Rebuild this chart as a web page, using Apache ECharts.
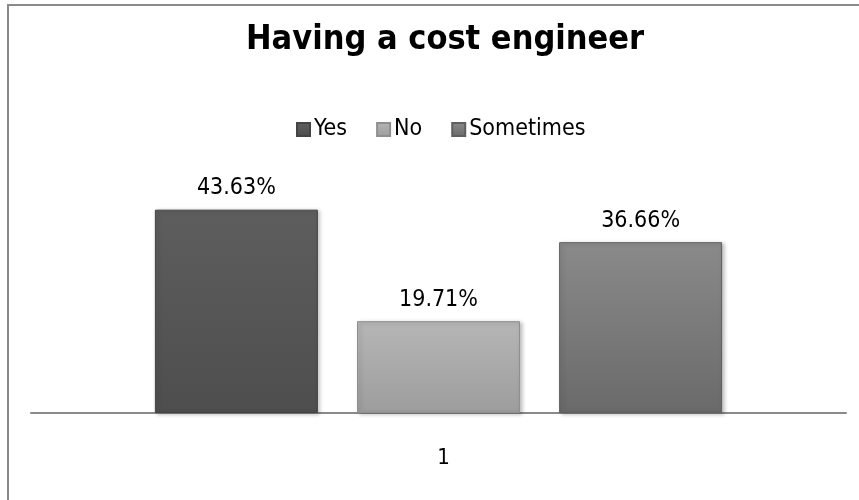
<!DOCTYPE html>
<html>
<head>
<meta charset="utf-8">
<script src="https://cdn.jsdelivr.net/npm/echarts@6/dist/echarts.min.js"></script>
<style>
html,body{margin:0;padding:0;background:#fff;}
#frame{position:absolute;left:7px;top:4px;width:860px;height:500px;border-left:2px solid #8a8a8a;border-top:2px solid #8a8a8a;box-sizing:border-box;}
#chart{position:absolute;left:0;top:0;width:859px;height:500px;}
</style>
</head>
<body>
<div id="frame"></div>
<div id="chart"></div>
<script>
const titleText = 'Having a cost engineer';
const categories = ['1'];
const seriesNames = ['Yes', 'No', 'Sometimes'];
const yesValues = [43.63];
const noValues = [19.71];
const sometimesValues = [36.66];

const narrow = '"Liberation Sans Narrow", "DejaVu Sans Condensed", "Arial Narrow", sans-serif';

function grad(top, bottom, border) {
  return {
    color: new echarts.graphic.LinearGradient(0, 0, 0, 1, [
      {offset: 0, color: top},
      {offset: 1, color: bottom}
    ]),
    borderColor: border,
    borderWidth: 1,
    shadowBlur: 4,
    shadowOffsetX: 2,
    shadowOffsetY: 1,
    shadowColor: 'rgba(0,0,0,0.25)'
  };
}

const styles = [
  grad('#5e5e5e', '#4e4e4e', '#444'),
  grad('#b6b6b6', '#9d9d9d', '#8f8f8f'),
  grad('#8a8a8a', '#6a6a6a', '#5f5f5f')
];
const dataSets = [yesValues, noValues, sometimesValues];

const chart = echarts.init(document.getElementById('chart'));
chart.setOption({
  animation: false,
  backgroundColor: 'transparent',
  title: {
    text: titleText,
    left: 241,
    top: 18,
    textStyle: {fontFamily: narrow, fontWeight: 'bold', fontSize: 34, color: '#000'}
  },
  legend: {
    data: seriesNames,
    top: 113,
    left: 291,
    icon: 'rect',
    itemWidth: 13,
    itemHeight: 13,
    itemGap: 29,
    textStyle: {fontFamily: narrow, fontSize: 23, color: '#000', padding: [0, 0, 0, -1]}
  },
  grid: {left: 31, right: 13, top: 180, bottom: 87},
  xAxis: {
    type: 'category',
    data: categories,
    axisLine: {lineStyle: {color: '#8a8a8a', width: 2}},
    axisTick: {show: false},
    axisLabel: {fontFamily: narrow, fontSize: 22, color: '#000', margin: 34, padding: [0, 0, 0, 10]}
  },
  yAxis: {
    type: 'value',
    min: 0,
    max: 50,
    show: false,
    splitLine: {show: false}
  },
  series: seriesNames.map((name, i) => ({
    name: name,
    type: 'bar',
    data: dataSets[i],
    barWidth: '20%',
    barGap: '24%',
    itemStyle: styles[i],
    label: {
      show: true,
      position: 'top',
      distance: 10,
      formatter: p => p.value.toFixed(2) + '%',
      fontFamily: narrow,
      fontSize: 23,
      color: '#000'
    }
  }))
});
</script>
</body>
</html>
